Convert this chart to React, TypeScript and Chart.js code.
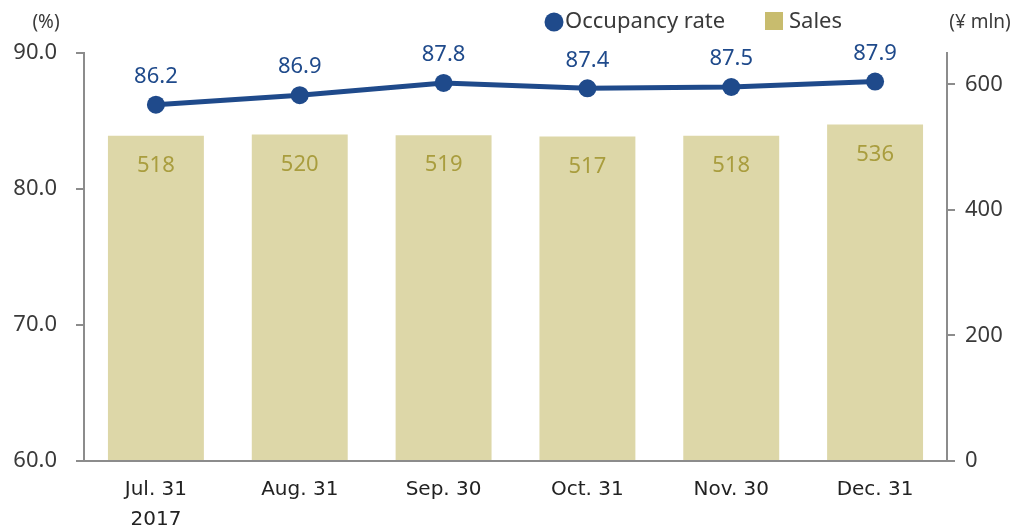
import React, { useEffect, useRef } from "react";
import { Chart, registerables } from "chart.js";

Chart.register(...registerables);

const categories: (string | string[])[] = [["Jul. 31", "2017"], "Aug. 31", "Sep. 30", "Oct. 31", "Nov. 30", "Dec. 31"];
const occupancyRate = [86.2, 86.9, 87.8, 87.4, 87.5, 87.9];
const sales = [518, 520, 519, 517, 518, 536];
const leftTicks = [60, 70, 80, 90];
const rightTicks = [0, 200, 400, 600];

const BLUE = "#1F4A8B";
const BAR = "#DDD7A8";
const BAR_LEGEND = "#C8BC6E";
const BAR_TEXT = "#A99D3E";
const AXIS = "#8C8C8C";
const TEXT = "#3A3A3A";
const FONT = "'Noto Sans', sans-serif";

const overlay = {
  id: "overlay",
  afterDatasetsDraw(chart: any) {
    const ctx = chart.ctx;
    ctx.save();
    const lineMeta = chart.getDatasetMeta(1);
    ctx.font = `22px ${FONT}`;
    ctx.textAlign = "center";
    ctx.textBaseline = "middle";
    ctx.fillStyle = BLUE;
    lineMeta.data.forEach((pt: any, i: number) => {
      ctx.fillText(occupancyRate[i].toFixed(1), pt.x, pt.y - 28);
    });
    const barMeta = chart.getDatasetMeta(0);
    ctx.fillStyle = BAR_TEXT;
    barMeta.data.forEach((b: any, i: number) => {
      ctx.fillText(String(sales[i]), b.x, b.y + 30);
    });
    ctx.fillStyle = TEXT;
    ctx.font = `19px ${FONT}`;
    ctx.fillText("(%)", 46, 23);
    ctx.fillText("(¥ mln)", 980, 23);
    ctx.font = `22px ${FONT}`;
    ctx.textAlign = "left";
    ctx.fillStyle = BLUE;
    ctx.beginPath();
    ctx.arc(554, 22, 9.5, 0, Math.PI * 2);
    ctx.fill();
    ctx.fillStyle = TEXT;
    ctx.fillText("Occupancy rate", 565, 22);
    ctx.fillStyle = BAR_LEGEND;
    ctx.fillRect(765, 12, 18, 18);
    ctx.fillStyle = TEXT;
    ctx.fillText("Sales", 789, 22);
    ctx.restore();
  },
};

export default function App() {
  const ref = useRef<HTMLCanvasElement>(null);
  useEffect(() => {
    document.body.style.margin = "0";
    const chart = new Chart(ref.current!, {
      type: "bar",
      data: {
        labels: categories as any,
        datasets: [
          {
            type: "bar",
            label: "Sales",
            data: sales,
            backgroundColor: BAR,
            yAxisID: "y1",
            barPercentage: 0.667,
            categoryPercentage: 1,
            order: 2,
          },
          {
            type: "line",
            label: "Occupancy rate",
            data: occupancyRate,
            borderColor: BLUE,
            backgroundColor: BLUE,
            borderWidth: 5,
            pointRadius: 9,
            pointHoverRadius: 9,
            pointBackgroundColor: BLUE,
            pointBorderWidth: 0,
            yAxisID: "y",
            order: 1,
          } as any,
        ],
      },
      options: {
        responsive: false,
        animation: false,
        layout: { padding: { top: 53, left: 0, right: 0, bottom: 0 } },
        plugins: { legend: { display: false }, tooltip: { enabled: false } },
        scales: {
          x: {
            grid: { display: false, drawTicks: false },
            border: { display: true, color: AXIS, width: 2 },
            ticks: { color: "#222", font: { family: "'DejaVu Sans', sans-serif", size: 20, lineHeight: 1.5 }, padding: 14, maxRotation: 0 },
            afterFit: (s: any) => { s.height = 67; },
          },
          y: {
            position: "left",
            min: 60,
            max: 90,
            grid: { drawOnChartArea: false, drawTicks: true, tickLength: 8, color: AXIS, lineWidth: 2 },
            border: { display: true, color: AXIS, width: 2 },
            ticks: {
              stepSize: 10,
              color: TEXT,
              font: { family: FONT, size: 22 },
              padding: 19,
              callback: (v: any) => Number(v).toFixed(1),
            },
            afterBuildTicks: (s: any) => { s.ticks = leftTicks.map((v) => ({ value: v })); },
            afterFit: (s: any) => { s.width = 84; },
          },
          y1: {
            position: "right",
            min: 0,
            max: 650,
            grid: { drawOnChartArea: false, drawTicks: true, tickLength: 8, color: AXIS, lineWidth: 2 },
            border: { display: true, color: AXIS, width: 2 },
            ticks: { color: TEXT, font: { family: FONT, size: 22 }, padding: 10 },
            afterBuildTicks: (s: any) => { s.ticks = rightTicks.map((v) => ({ value: v })); },
            afterFit: (s: any) => { s.width = 66; },
          },
        },
      },
      plugins: [overlay],
    });
    return () => chart.destroy();
  }, []);
  return (
    <div style={{ width: 1013, height: 528 }}>
      <canvas ref={ref} width={1013} height={528} style={{ display: "block" }} />
    </div>
  );
}
